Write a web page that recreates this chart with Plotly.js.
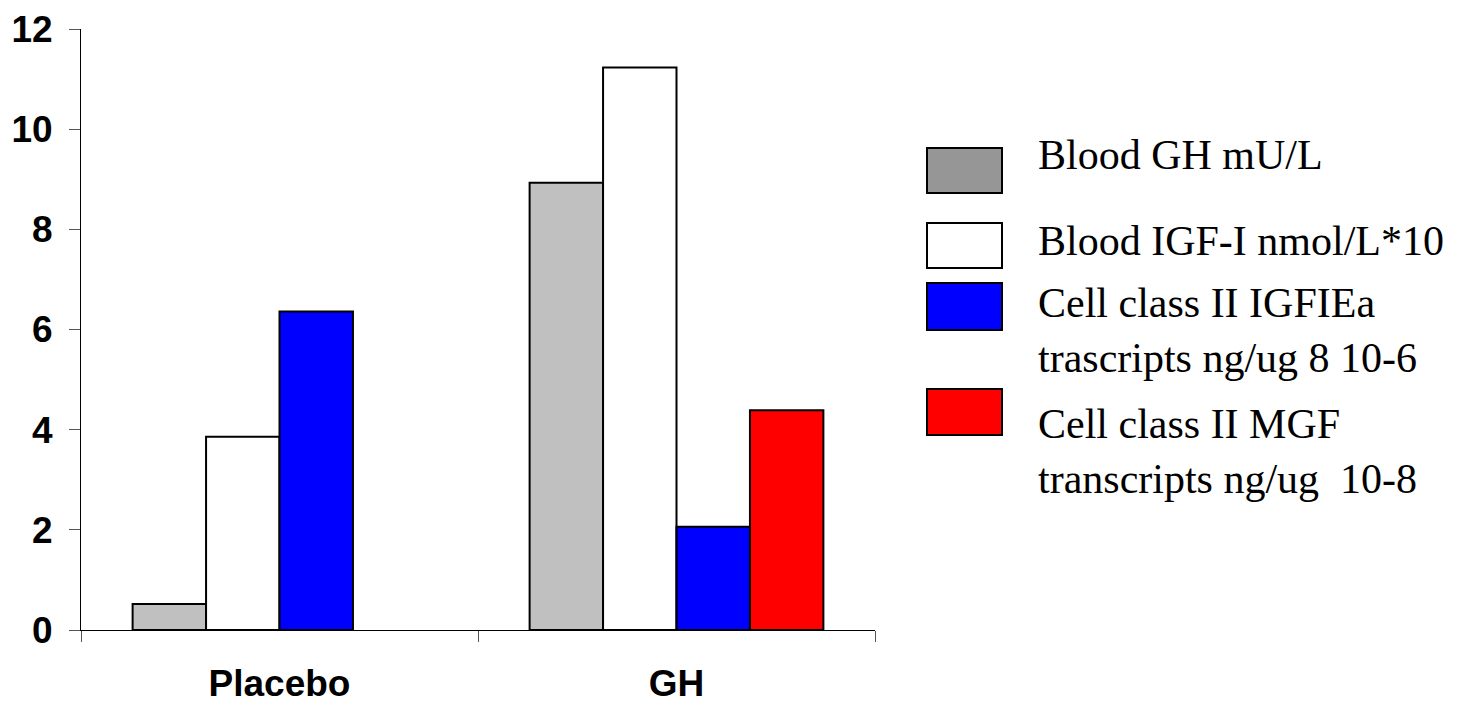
<!DOCTYPE html>
<html>
<head>
<meta charset="utf-8">
<script src="https://cdn.plot.ly/plotly-3.0.1.min.js"></script>
<style>
  html, body { margin: 0; padding: 0; background: #ffffff; }
  #chart { width: 1457px; height: 705px; }
</style>
</head>
<body>
<div id="chart"></div>
<script>
// ---- data ----
const categories = ["Placebo", "GH"];
const seriesNames = [
  "Blood GH mU/L",
  "Blood IGF-I nmol/L*10",
  "Cell class II IGFIEa<br>trascripts ng/ug 8 10-6",
  "Cell class II MGF<br>transcripts ng/ug  10-8"
];
const bloodGH = [0.52, 8.93];
const bloodIGF = [3.86, 11.23];
const cellIGFIEa = [6.36, 2.06];
const cellMGF = [null, 4.39];
const yTickVals = [0, 2, 4, 6, 8, 10, 12];

// ---- styling ----
const barColors = ["#c0c0c0", "#ffffff", "#0000ff", "#ff0000"];
const swatchColors = ["#969696", "#ffffff", "#0000ff", "#ff0000"];
const seriesValues = [bloodGH, bloodIGF, cellIGFIEa, cellMGF];

const W = 1457, H = 705;
const M = { l: 81, r: 1457 - 875, t: 29, b: 705 - 630 };
const plotW = W - M.l - M.r, plotH = H - M.t - M.b;
const px2x = px => (px - M.l) / plotW;
const px2y = py => (H - M.b - py) / plotH;

const traces = seriesValues.map((vals, i) => ({
  type: "bar",
  x: categories,
  y: vals,
  name: seriesNames[i],
  marker: { color: barColors[i], line: { color: "#000000", width: 2 } },
  hoverinfo: "x+y"
}));

// legend drawn as shapes + annotations (large swatches)
const swatchBoxes = [[148, 193], [223, 268], [283, 330], [389, 435]];
const textCenters = [155, 241, 330.5, 451.5];
const shapes = swatchBoxes.map((b, i) => ({
  type: "rect", xref: "paper", yref: "paper",
  x0: px2x(927), x1: px2x(1002), y0: px2y(b[1]), y1: px2y(b[0]),
  fillcolor: swatchColors[i], line: { color: "#000000", width: 2 }
}));
const annotations = seriesNames.map((t, i) => ({
  xref: "paper", yref: "paper",
  x: px2x(1036), y: px2y(textCenters[i]),
  xanchor: "left", yanchor: "middle", align: "left",
  text: t, showarrow: false,
  font: { family: "Liberation Serif, Times New Roman, serif", size: 42, color: "#000000" }
}));

const layout = {
  width: W, height: H,
  margin: M,
  paper_bgcolor: "#ffffff",
  plot_bgcolor: "#ffffff",
  showlegend: false,
  barmode: "group",
  bargap: 0.26,
  bargroupgap: 0,
  xaxis: {
    type: "category",
    tickson: "boundaries",
    ticks: "outside", ticklen: 11, tickwidth: 1, tickcolor: "#555555",
    showline: true, linecolor: "#000000", linewidth: 1,
    showgrid: false, zeroline: false,
    ticklabelstandoff: 21,
    tickfont: { family: "Liberation Sans, Arial, sans-serif", size: 37, color: "#000000", weight: "bold" }
  },
  yaxis: {
    range: [0, 12],
    tickvals: yTickVals,
    ticktext: yTickVals.map(String),
    ticks: "outside", ticklen: 11, tickwidth: 1, tickcolor: "#555555",
    showline: true, linecolor: "#000000", linewidth: 1,
    showgrid: false, zeroline: false,
    ticklabelstandoff: 9,
    tickfont: { family: "Liberation Sans, Arial, sans-serif", size: 37, color: "#000000", weight: "bold" }
  },
  shapes: shapes,
  annotations: annotations
};

Plotly.newPlot("chart", traces, layout, { displayModeBar: false, staticPlot: true });
</script>
</body>
</html>
